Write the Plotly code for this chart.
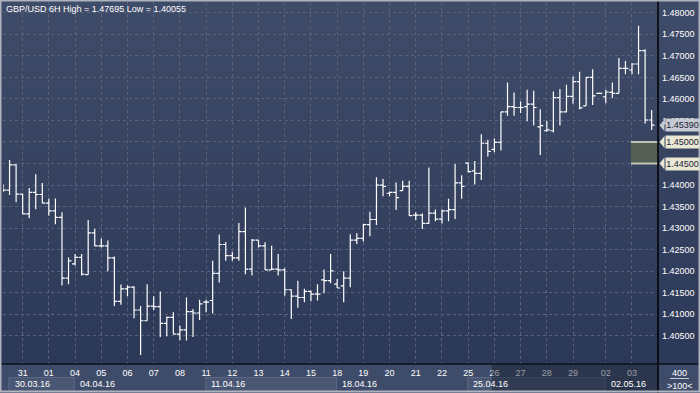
import base64, struct, zlib
import plotly.graph_objects as go

# ---------------- data (GBP/USD, 6H bars) ----------------
bar_open = [1.4395, 1.4388, 1.4447, 1.4379, 1.4333, 1.4383, 1.4378, 1.4358, 1.4340, 1.4325,
            1.4184, 1.4217, 1.4232, 1.4192, 1.4289, 1.4259, 1.4259, 1.4231, 1.4130, 1.4159,
            1.4163, 1.4110, 1.4085, 1.4119, 1.4118, 1.4079, 1.4093, 1.4054, 1.4064, 1.4106,
            1.4103, 1.4128, 1.4132, 1.4195, 1.4262, 1.4236, 1.4231, 1.4292, 1.4205, 1.4272,
            1.4259, 1.4203, 1.4205, 1.4203, 1.4157, 1.4142, 1.4139, 1.4153, 1.4147, 1.4180,
            1.4178, 1.4170, 1.4166, 1.4184, 1.4272, 1.4276, 1.4308, 1.4320, 1.4400, 1.4381,
            1.4383, 1.4387, 1.4397, 1.4330, 1.4330, 1.4311, 1.4335, 1.4321, 1.4340, 1.4343,
            1.4405, 1.4451, 1.4433, 1.4427, 1.4497, 1.4483, 1.4499, 1.4570, 1.4582, 1.4580,
            1.4582, 1.4588, 1.4535, 1.4526, 1.4526, 1.4603, 1.4570, 1.4606, 1.4640, 1.4584,
            1.4650, 1.4613, 1.4605, 1.4615, 1.4613, 1.4671, 1.4667, 1.4681, 1.4712, 1.4551]
bar_high = [1.4402, 1.4458, 1.4448, 1.4380, 1.4393, 1.4425, 1.4405, 1.4369, 1.4369, 1.4337,
            1.4232, 1.4240, 1.4240, 1.4319, 1.4298, 1.4276, 1.4271, 1.4234, 1.4169, 1.4167,
            1.4165, 1.4119, 1.4170, 1.4142, 1.4153, 1.4095, 1.4105, 1.4074, 1.4139, 1.4112,
            1.4134, 1.4134, 1.4224, 1.4285, 1.4268, 1.4245, 1.4312, 1.4348, 1.4275, 1.4272,
            1.4267, 1.4259, 1.4240, 1.4207, 1.4158, 1.4178, 1.4159, 1.4155, 1.4170, 1.4204,
            1.4240, 1.4182, 1.4200, 1.4286, 1.4288, 1.4310, 1.4338, 1.4418, 1.4414, 1.4385,
            1.4406, 1.4410, 1.4410, 1.4337, 1.4334, 1.4441, 1.4343, 1.4343, 1.4368, 1.4449,
            1.4423, 1.4453, 1.4456, 1.4518, 1.4505, 1.4508, 1.4570, 1.4638, 1.4615, 1.4594,
            1.4621, 1.4619, 1.4576, 1.4549, 1.4617, 1.4623, 1.4633, 1.4652, 1.4663, 1.4650,
            1.4669, 1.4615, 1.4621, 1.4638, 1.4695, 1.4688, 1.4683, 1.47695, 1.4715, 1.4574]
bar_low = [1.4383, 1.4377, 1.4360, 1.4333, 1.4323, 1.4344, 1.4358, 1.4329, 1.4309, 1.4167,
           1.4170, 1.4213, 1.4190, 1.4192, 1.4258, 1.4255, 1.4200, 1.4119, 1.4122, 1.4142,
           1.4091, 1.40055, 1.4085, 1.4110, 1.4047, 1.4049, 1.4054, 1.4040, 1.4039, 1.4047,
           1.4087, 1.4105, 1.4102, 1.4174, 1.4224, 1.4224, 1.4224, 1.4193, 1.4190, 1.4255,
           1.4203, 1.4203, 1.4190, 1.4143, 1.4089, 1.4115, 1.4128, 1.4130, 1.4132, 1.4149,
           1.4172, 1.4161, 1.4128, 1.4163, 1.4263, 1.4269, 1.4281, 1.4307, 1.4374, 1.4374,
           1.4342, 1.4387, 1.4329, 1.4319, 1.4298, 1.4310, 1.4316, 1.4311, 1.4316, 1.4321,
           1.4368, 1.4429, 1.4401, 1.4412, 1.4466, 1.4476, 1.4480, 1.4561, 1.4561, 1.4567,
           1.4548, 1.4538, 1.4470, 1.4524, 1.4522, 1.4538, 1.4569, 1.4589, 1.4576, 1.4584,
           1.4586, 1.4612, 1.4590, 1.4602, 1.4613, 1.4657, 1.4657, 1.4657, 1.4543, 1.4528]
bar_close = [1.4388, 1.4447, 1.4379, 1.4333, 1.4383, 1.4378, 1.4358, 1.4340, 1.4325, 1.4184,
             1.4224, 1.4232, 1.4193, 1.4289, 1.4259, 1.4259, 1.4231, 1.4130, 1.4159, 1.4163,
             1.4110, 1.4085, 1.4119, 1.4118, 1.4079, 1.4093, 1.4054, 1.4064, 1.4106, 1.4103,
             1.4124, 1.4128, 1.4195, 1.4262, 1.4236, 1.4231, 1.4292, 1.4205, 1.4272, 1.4259,
             1.4203, 1.4205, 1.4203, 1.4157, 1.4142, 1.4139, 1.4153, 1.4147, 1.4147, 1.4178,
             1.4201, 1.4161, 1.4184, 1.4272, 1.4276, 1.4308, 1.4320, 1.4400, 1.4397, 1.4383,
             1.4371, 1.4397, 1.4329, 1.4330, 1.4311, 1.4335, 1.4321, 1.4340, 1.4343, 1.4405,
             1.4397, 1.4431, 1.4427, 1.4497, 1.4478, 1.4499, 1.4570, 1.4582, 1.4580, 1.4580,
             1.4588, 1.4580, 1.4538, 1.4528, 1.4603, 1.4570, 1.4606, 1.4640, 1.4579, 1.4650,
             1.4607, 1.4613, 1.4616, 1.4613, 1.4671, 1.4671, 1.4681, 1.4712, 1.4551, 1.4539]
bar_index = list(range(len(bar_open)))

day_labels = ['31', '01', '04', '05', '06', '07', '08', '11', '12', '13', '14', '15',
              '18', '19', '20', '21', '22', '25', '26', '27', '28', '29', '02', '03']
day_start_bar = [3, 7, 11, 15, 19, 23, 27, 31, 35, 39, 43, 47,
                 51, 55, 59, 63, 67, 71, 75, 79, 83, 87, 92, 96]
week_labels = ['30.03.16', '04.04.16', '11.04.16', '18.04.16', '25.04.16', '02.05.16']
week_start_bar = [1, 11, 31, 51, 71, 92]
price_ticks = [1.405, 1.410, 1.415, 1.420, 1.425, 1.430, 1.435, 1.440,
               1.445, 1.450, 1.455, 1.460, 1.465, 1.470, 1.475, 1.480]
zone_low, zone_high = 1.445, 1.450
last_price = bar_close[-1]
bars_shown = len(bar_open)
scale_value = 400

# ---------------- styling helpers ----------------
FONT = 'Liberation Sans, Arial, sans-serif'
W, H = 700, 393
ML, MR, MT, MB = 3, 42, 2, 29
PW, PH = W - ML - MR, H - MT - MB


def px_x(px):
    return (px - ML) / PW


def px_y(py):
    return (H - MB - py) / PH


def gradient_png(h, top, bot):
    rows = b''
    for j in range(h):
        t = j / (h - 1)
        c = bytes(int(round(top[k] + (bot[k] - top[k]) * t)) for k in range(3))
        rows += b'\x00' + c + c
    def chunk(tag, data):
        return struct.pack('>I', len(data)) + tag + data + struct.pack('>I', zlib.crc32(tag + data) & 0xffffffff)
    ihdr = struct.pack('>IIBBBBB', 2, h, 8, 2, 0, 0, 0)
    png = b'\x89PNG\r\n\x1a\n' + chunk(b'IHDR', ihdr) + chunk(b'IDAT', zlib.compress(rows)) + chunk(b'IEND', b'')
    return 'data:image/png;base64,' + base64.b64encode(png).decode()


fig = go.Figure()
fig.add_trace(go.Ohlc(
    x=bar_index, open=bar_open, high=bar_high, low=bar_low, close=bar_close,
    increasing=dict(line=dict(color='#ffffff', width=1.2)),
    decreasing=dict(line=dict(color='#ffffff', width=1.2)),
    tickwidth=0.45, hoverinfo='skip', showlegend=False,
))

# price labels hidden where a price tag with the same value covers them
tag_values = (zone_low, zone_high)
price_text = ['' if any(abs(v - t) < 1e-9 for t in tag_values) else f'{v:.5f}' for v in price_ticks]

fig.update_layout(
    width=W, height=H,
    margin=dict(l=ML, r=MR, t=MT, b=MB, pad=0),
    paper_bgcolor='#34405e', plot_bgcolor='rgba(0,0,0,0)',
    font=dict(family=FONT, size=9, color='#ffffff'),
    showlegend=False,
    xaxis=dict(range=[0, PW / 6.552], tickvals=day_start_bar, ticktext=day_labels,
               showgrid=True, gridcolor='#56627e', griddash='3px,3px', gridwidth=1,
               zeroline=False, showline=False, ticks='', ticklabelstandoff=2,
               tickfont=dict(family=FONT, size=9, color='#ffffff'),
               rangeslider=dict(visible=False), fixedrange=True),
    yaxis=dict(range=[1.39846, 1.48249], side='right', tickvals=price_ticks,
               ticktext=price_text,
               showgrid=True, gridcolor='#56627e', griddash='3px,3px', gridwidth=1,
               zeroline=False, showline=False, ticks='', ticklabelstandoff=3,
               tickfont=dict(family=FONT, size=9, color='#ffffff'), fixedrange=True),
)

# background gradient
fig.add_layout_image(dict(
    source=gradient_png(128, (63, 76, 105), (44, 56, 87)),
    xref='paper', yref='paper', x=px_x(0), y=px_y(0), sizex=px_x(W) - px_x(0),
    sizey=px_y(0) - px_y(H - MB), xanchor='left', yanchor='top', sizing='stretch', layer='below'))

shapes = []
# bottom date band
shapes.append(dict(type='rect', xref='paper', yref='paper', x0=px_x(0), x1=px_x(W),
                   y0=px_y(H), y1=px_y(H - MB), fillcolor='#3e4b69', line=dict(width=0), layer='below'))
# week boxes (alternating)
for k in range(0, len(week_labels) - 1, 2):
    shapes.append(dict(type='rect', xref='x', yref='paper',
                       x0=week_start_bar[k] - 0.1, x1=week_start_bar[k + 1] - 0.1,
                       y0=px_y(391), y1=px_y(377.5), fillcolor='#4a5774',
                       line=dict(color='#5b6783', width=1), layer='below'))
# dark overlay on the last part of the date band
shapes.append(dict(type='rect', xref='x', yref='paper', x0=day_start_bar[18] - 0.4, x1=PW / 6.552,
                   y0=px_y(391), y1=px_y(364.5), fillcolor='rgba(20,28,45,0.45)',
                   line=dict(width=0), layer='above'))
# zone rectangle
shapes.append(dict(type='rect', xref='paper', yref='y', x0=px_x(631), x1=1, y0=zone_low, y1=zone_high,
                   fillcolor='#565f55', line=dict(width=0), layer='above'))
for yv in (zone_low, zone_high):
    shapes.append(dict(type='line', xref='paper', yref='y', x0=px_x(631), x1=1, y0=yv, y1=yv,
                       line=dict(color='#c3c6b6', width=2), layer='above'))
# separators
shapes.append(dict(type='line', xref='paper', yref='paper', x0=1, x1=1, y0=px_y(H), y1=px_y(0),
                   line=dict(color='#000000', width=1.5), layer='above'))
shapes.append(dict(type='line', xref='paper', yref='paper', x0=px_x(0), x1=px_x(W), y0=0, y1=0,
                   line=dict(color='#0a0f1a', width=1.5), layer='above'))
# scale divider bottom right
shapes.append(dict(type='line', xref='paper', yref='paper', x0=px_x(670), x1=px_x(689),
                   y0=px_y(378.5), y1=px_y(378.5), line=dict(color='#c8ccd6', width=1), layer='above'))
# price tag arrows
tag_specs = [(last_price, '#c6cad3'), (zone_high, '#e8e8d4'), (zone_low, '#e8e8d4')]
for yv, col in tag_specs:
    shapes.append(dict(type='path', xref='paper', yref='y', xsizemode='pixel', ysizemode='pixel',
                       xanchor=1, yanchor=yv, path='M 1.5,0 L 6.5,6 L 6.5,-6 Z',
                       fillcolor=col, line=dict(width=0), layer='above'))
# outer frame
shapes.append(dict(type='rect', xref='paper', yref='paper', x0=px_x(0.5), x1=px_x(W - 0.5),
                   y0=px_y(H - 1.5), y1=px_y(0.5), line=dict(color='#aeb3bd', width=2),
                   fillcolor='rgba(0,0,0,0)', layer='above'))
fig.update_layout(shapes=shapes)

ann = []
ann.append(dict(xref='paper', yref='paper', x=px_x(4), y=px_y(9.5), xanchor='left', yanchor='middle',
                text=f'GBP/USD 6H High = {max(bar_high):.5f} Low = {min(bar_low):.5f}',
                showarrow=False, font=dict(family=FONT, size=9, color='#ffffff')))
for lab, b in zip(week_labels, week_start_bar):
    ann.append(dict(xref='x', yref='paper', x=b, y=px_y(384), xanchor='left', yanchor='middle',
                    xshift=3, text=lab, showarrow=False, font=dict(family=FONT, size=9, color='#ffffff')))
for yv, col in tag_specs:
    ann.append(dict(xref='paper', yref='y', x=1, y=yv, xanchor='left', yanchor='middle', xshift=6.5,
                    text=f'{yv:.5f}', showarrow=False, bgcolor=col, borderpad=0, width=33, height=12,
                    font=dict(family=FONT, size=9, color='#1b2236')))
ann.append(dict(xref='paper', yref='paper', x=px_x(679.5), y=px_y(372.5), xanchor='center', yanchor='middle',
                text=str(scale_value), showarrow=False, font=dict(family=FONT, size=9, color='#ffffff')))
ann.append(dict(xref='paper', yref='paper', x=px_x(679.5), y=px_y(385.5), xanchor='center', yanchor='middle',
                text=f'&gt;{bars_shown}&lt;', showarrow=False, font=dict(family=FONT, size=9, color='#ffffff')))
fig.update_layout(annotations=ann)

fig.write_html('out.html')
